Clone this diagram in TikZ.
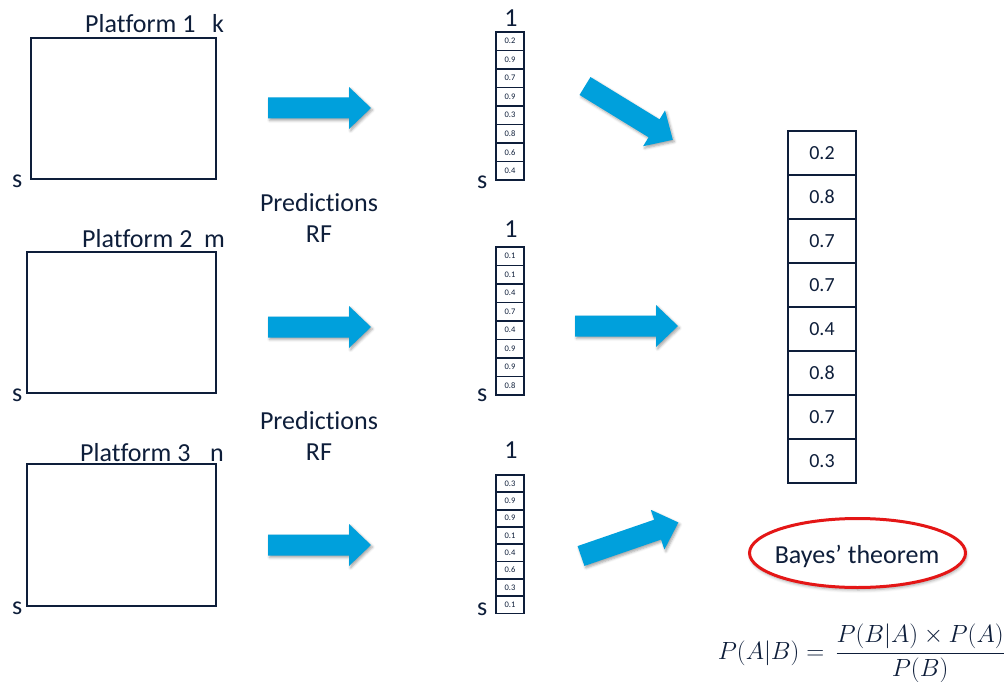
\documentclass[tikz,border=0pt]{standalone}
\usepackage[no-math]{fontspec}
\setmainfont{Carlito}[RawFeature={-liga}]
\usetikzlibrary{shapes.geometric,shadows.blur}
\definecolor{ink}{RGB}{14,30,58}
\definecolor{flow}{RGB}{0,160,220}
\definecolor{ring}{RGB}{228,22,22}

\tikzset{
  % thick blue block arrow, tail centre at the origin, pointing along +x
  blockarrow/.pic={
    \fill[flow, blur shadow={shadow xshift=1.5pt, shadow yshift=-2pt,
          shadow blur radius=2.5pt, shadow opacity=35}]
      (0,-10.5) -- (81,-10.5) -- (81,-21) -- (103,0) -- (81,21)
      -- (81,10.5) -- (0,10.5) -- cycle;
  }
}

\begin{document}
\begin{tikzpicture}[x=1pt, y=-1pt,
  every node/.style={text=ink, inner sep=0pt},
  lbl/.style={font=\fontsize{26}{30}\selectfont},
  frame/.style={draw=ink, line width=2.8pt},
  cell/.style={draw=ink, line width=1.8pt, fill=white, minimum width=28pt,
               font=\fontsize{8.5}{10}\selectfont},
  bigcell/.style={draw=ink, line width=2.6pt, minimum width=68pt,
                  minimum height=44pt, font=\fontsize{20}{24}\selectfont},
]
\useasboundingbox (0,0) rectangle (1006,682);

% platform matrices
\node[frame, minimum width=185pt, minimum height=141pt] (box1) at (123.5,108.5) {};
\node[frame, minimum width=189pt, minimum height=141pt] (box2) at (121.5,322.5) {};
\node[frame, minimum width=189pt, minimum height=142pt] (box3) at (121.5,535) {};

\node[lbl, anchor=base west] (name1) at (85,33) {Platform 1};
\node[lbl, anchor=base west] (cols1) at (212,33) {k};
\node[lbl, anchor=base west] (rows1) at (12,187) {s};
\node[lbl, anchor=base west] (name2) at (82,247) {Platform 2};
\node[lbl, anchor=base west] (cols2) at (204,247) {m};
\node[lbl, anchor=base west] (rows2) at (12,401) {s};
\node[lbl, anchor=base west] (name3) at (80,461) {Platform 3};
\node[lbl, anchor=base west] (cols3) at (210,461) {n};
\node[lbl, anchor=base west] (rows3) at (12,614) {s};

% classifier step
\pic at (268,108) {blockarrow};
\pic at (268,327) {blockarrow};
\pic at (268,545) {blockarrow};

\node[lbl, anchor=base] (pred1) at (319,211) {Predictions};
\node[lbl, anchor=base] (rf1) at (319,242.5) {RF};
\node[lbl, anchor=base] (pred2) at (319,429.5) {Predictions};
\node[lbl, anchor=base] (rf2) at (319,460.5) {RF};

% prediction vectors
\foreach \v [count=\i] in {0.2,0.9,0.7,0.9,0.3,0.8,0.6,0.4}
  \node[cell, minimum height=18.5pt] (pa-\i) at (510,{32+18.5*(\i-0.5)}) {\v};
\foreach \v [count=\i] in {0.1,0.1,0.4,0.7,0.4,0.9,0.9,0.8}
  \node[cell, minimum height=18.5pt] (pb-\i) at (510,{247+18.5*(\i-0.5)}) {\v};
\foreach \v [count=\i] in {0.3,0.9,0.9,0.1,0.4,0.6,0.3,0.1}
  \node[cell, minimum height=17.3pt] (pc-\i) at (510,{475+17.3*(\i-0.5)}) {\v};

\node[lbl, anchor=base] (topa) at (511,27) {1};
\node[lbl, anchor=base west] (bota) at (477,188) {s};
\node[lbl, anchor=base] (topb) at (511,237) {1};
\node[lbl, anchor=base west] (botb) at (477,401) {s};
\node[lbl, anchor=base] (topc) at (511,458) {1};
\node[lbl, anchor=base west] (botc) at (477,615) {s};

% combination step
\pic[rotate=-31.5] at (585,86) {blockarrow};
\pic at (575,326) {blockarrow};
\pic[rotate=19] at (581,556) {blockarrow};

% combined vector
\foreach \v [count=\i] in {0.2,0.8,0.7,0.7,0.4,0.8,0.7,0.3}
  \node[bigcell] (pf-\i) at (822,{131+44*(\i-0.5)}) {\v};

% Bayes label in a red oval
\node[draw=ring, line width=3pt, ellipse, fill=white, minimum width=216pt,
      minimum height=69pt,
      blur shadow={shadow xshift=1pt, shadow yshift=-2.5pt,
                   shadow blur radius=3pt, shadow opacity=35}]
      (oval) at (857.5,553) {};
\node[lbl, anchor=base] (bayes) at (857,563) {Bayes’ theorem};

\node[anchor=base east, font=\fontsize{25}{30}\selectfont] (rule) at (1005,659)
  {$\displaystyle P(A|B) =\, \frac{P(B|A)\times P(A)}{P(B)}$};
\end{tikzpicture}
\end{document}
